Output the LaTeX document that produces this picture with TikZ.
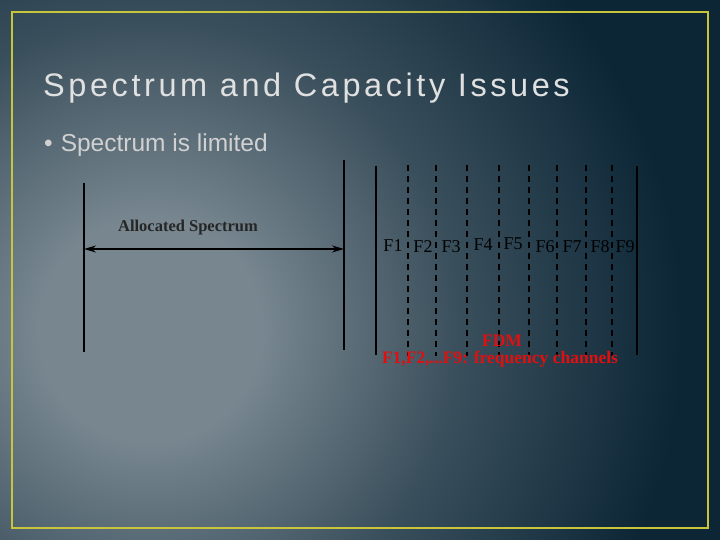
\documentclass[tikz,border=0pt]{standalone}
\usepackage{fontspec}
\setsansfont{Liberation Sans}
\setmainfont{Liberation Serif}
\usetikzlibrary{arrows.meta}
\definecolor{bgL}{HTML}{77868F}
\definecolor{bgM}{HTML}{3A4F5C}
\definecolor{bgR}{HTML}{0C2636}
\definecolor{frameY}{HTML}{C9C53A}
\definecolor{fdmred}{HTML}{E01010}
\pgfdeclareradialshading{bgshade}{\pgfpoint{0bp}{0bp}}{color(0bp)=(bgL); color(4bp)=(bgL); color(11bp)=(bgM); color(19bp)=(bgR); color(50bp)=(bgR)}
\begin{document}
\begin{tikzpicture}[x=1pt,y=-1pt,
  solidline/.style={line width=2.4pt,black},
  dashline/.style={line width=2.4pt,black,dash pattern=on 6pt off 5pt},
  flabel/.style={font=\rmfamily\fontsize{18}{18}\selectfont,text=black,inner sep=0pt},
  redtxt/.style={font=\rmfamily\bfseries\fontsize{17.5}{17.5}\selectfont,text=fdmred,inner sep=0pt}]
\useasboundingbox (0,0) rectangle (720,540);
\begin{scope}
\clip (0,0) rectangle (720,540);
\shade[shading=bgshade] (150,330) circle (700);
\end{scope}
\draw[frameY,line width=2.5pt] (12,12) rectangle (708,528);
\node[anchor=west,inner sep=0pt,text=white!88!black,font=\sffamily\fontsize{32.5}{32.5}\selectfont\addfontfeature{LetterSpace=11}] (title) at (43,88) {Spectrum and Capacity Issues};
\node[anchor=west,inner sep=0pt,text=white!82!black,font=\sffamily\fontsize{24.5}{24.5}\selectfont] (bullet) at (44,145) {•\hspace{8pt}Spectrum is limited};
% left diagram
\coordinate (l1) at (84,183); \coordinate (l2) at (84,352);
\coordinate (r1) at (344,160); \coordinate (r2) at (344,350);
\draw[solidline] (l1) -- (l2);
\draw[solidline] (r1) -- (r2);
\coordinate (al) at (84,249); \coordinate (ar) at (344,249);
\draw[line width=1.6pt,{Stealth[length=12pt,width=7pt]}-{Stealth[length=12pt,width=7pt]}] (al) -- (ar);
\node[flabel,font=\rmfamily\bfseries\fontsize{16.5}{16.5}\selectfont,text=black!85] (alloc) at (188,228) {Allocated Spectrum};
% right diagram
\coordinate (s1) at (376,166); \coordinate (s2) at (376,355);
\coordinate (t1) at (637,166); \coordinate (t2) at (637,355);
\draw[solidline] (s1) -- (s2);
\draw[solidline] (t1) -- (t2);
\foreach \x in {408,436,467,499,529,557,586,612}{
  \draw[dashline] (\x,165) -- (\x,356);
}
\foreach \n/\x/\y in {1/393/246,2/423/247,3/451/247,4/483/245,5/513/244,6/545/247,7/572/247,8/600/247,9/625/247}{
  \node[flabel] (f\n) at (\x,\y) {F\n};
}
\node[redtxt] (fdm) at (502,341) {FDM};
\node[redtxt] (fch) at (500,359.5) {F1,F2,...F9: frequency channels};
\end{tikzpicture}
\end{document}
